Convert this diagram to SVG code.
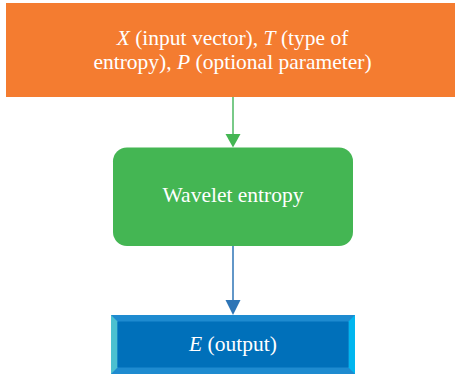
<svg xmlns="http://www.w3.org/2000/svg" width="455" height="377" viewBox="0 0 455 377">
<style>
.t{font-family:"Liberation Serif","Times New Roman",serif;font-size:21.5px;fill:#ffffff;text-anchor:middle}
.i{font-style:italic}
</style>
<rect width="455" height="377" fill="#ffffff"/>
<g id="connectors">
<line x1="233" y1="97" x2="233" y2="136" stroke="#4CB860" stroke-width="1.5"/>
<path d="M225.5,134 L240.5,134 L233,147.5 Z" fill="#44B653"/>
<line x1="233" y1="246" x2="233" y2="302" stroke="#2E75B6" stroke-width="1.5"/>
<path d="M225.5,300 L240.5,300 L233,315 Z" fill="#2E75B6"/>
</g>
<g id="input">
<rect x="6" y="3" width="449" height="94" fill="#F47C30"/>
<text class="t" x="232.5" y="45"><tspan class="i">X</tspan> (input vector), <tspan class="i">T</tspan> (type of</text>
<text class="t" x="232.5" y="69">entropy), <tspan class="i">P</tspan> (optional parameter)</text>
</g>
<g id="wavelet">
<rect x="113" y="147.5" width="240" height="98.5" rx="14" ry="14" fill="#44B653"/>
<text class="t" x="233" y="202">Wavelet entropy</text>
</g>
<g id="output">
<rect x="111" y="315" width="244" height="59" fill="#1E8BD0"/>
<polygon points="111,315 117.5,321.5 117.5,367.5 111,374" fill="#4CC0D0"/>
<polygon points="355,315 348.5,321.5 348.5,367.5 355,374" fill="#00B6EF"/>
<rect x="117.5" y="321.5" width="231" height="46" fill="#0070BA"/>
<text class="t" x="233" y="351"><tspan class="i">E</tspan> (output)</text>
</g>
</svg>
